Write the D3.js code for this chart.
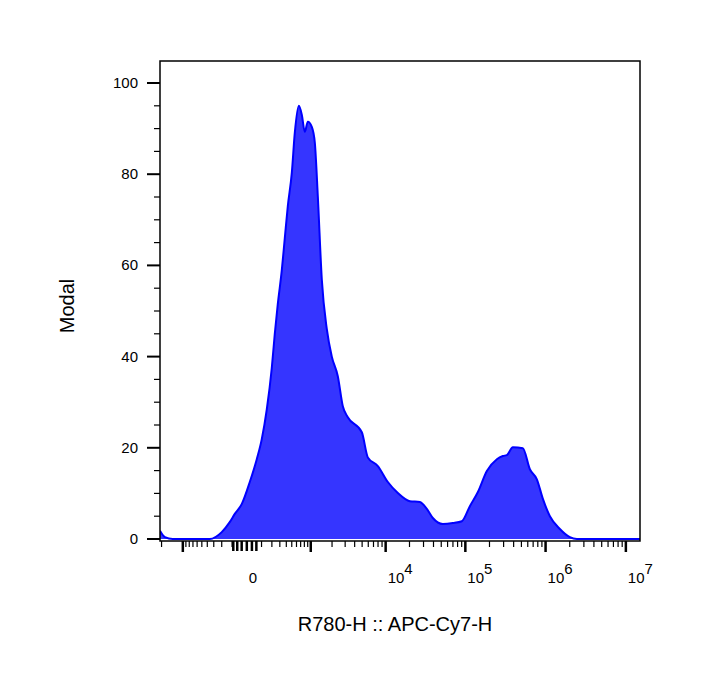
<!DOCTYPE html>
<html>
<head>
<meta charset="utf-8">
<script src="https://cdn.jsdelivr.net/npm/d3@7"></script>
<style>
	body { margin: 0; background: #fff; }
	text { font-family: "Liberation Sans", Arial, sans-serif; fill: #000; }
</style>
</head>
<body>
<svg id="chart" width="703" height="695"></svg>
<script>
// histogram: fluorescence value / modal %
var xVals = [-2100, -1800, -1400, -1000, -360, -200, -120, -78, -29, 17, 63, 102, 147, 199, 234, 272, 329, 375, 426, 501,
	563, 655, 731, 813, 903, 1036, 1147, 1267, 1443, 1696, 1986, 2394, 2793, 3253, 4955, 5922, 7953, 10660, 14270,
	20200, 26980, 33020, 39270, 52380, 69790, 90490, 113900, 143400, 185500, 247200, 293600, 329300, 391400, 521200,
	637300, 779000, 925700, 1131800, 1507300, 2007200, 2452000, 15000000];
var yVals = [1.8, 0.4, 0, 0, 0, 1.5, 3.7, 5.5, 7.7, 12.5, 17.5, 21.9, 28.4, 37.5, 45.0, 51.5, 59.0, 66.0, 73.0, 80.3,
	89.1, 95.0, 93.0, 89.3, 91.5, 90.4, 86.9, 75.1, 56.9, 46.0, 40.0, 35.7, 29.1, 26.7, 23.4, 17.9, 16.0, 12.5, 10.1,
	8.3, 8.1, 6.6, 4.6, 3.3, 3.5, 3.9, 7.2, 10.3, 14.9, 17.5, 18.2, 18.4, 20.1, 19.9,
	15.3, 13.1, 8.8, 5.0, 2.2, 0.4, 0, 0];

var yTicks = [0, 20, 40, 60, 80, 100];
var xLabels = [{v: 0, base: "0", exp: ""}, {v: 1e4, base: "10", exp: "4"}, {v: 1e5, base: "10", exp: "5"},
	{v: 1e6, base: "10", exp: "6"}, {v: 1e7, base: "10", exp: "7"}];
var xTitle = "R780-H :: APC-Cy7-H";
var yTitle = "Modal";

var svg = d3.select("#chart");
var L = 160, R = 640, T = 61, B = 541;

var x = d3.scaleSymlog().constant(190).domain([-2100, 15000000]).range([L, R]);
var y = d3.scaleLinear().domain([0, 100]).range([539, 83]);

var data = xVals.map(function(v, i){ return {x: v, y: yVals[i]}; });

// filled histogram
var area = d3.area()
	.x(function(d){ return x(d.x); })
	.y0(y(0))
	.y1(function(d){ return y(d.y); })
	.curve(d3.curveMonotoneX);
var line = d3.line()
	.x(function(d){ return x(d.x); })
	.y(function(d){ return y(d.y); })
	.curve(d3.curveMonotoneX);

svg.append("clipPath").attr("id", "plotclip")
	.append("rect").attr("x", L).attr("y", T).attr("width", R - L).attr("height", B - T);

var g = svg.append("g").attr("clip-path", "url(#plotclip)");
g.append("path").datum(data)
	.attr("d", area)
	.style("fill", "#3535ff");
g.append("path").datum(data)
	.attr("d", line)
	.style("fill", "none")
	.style("stroke", "#0000ff")
	.style("stroke-width", 2);

// frame
svg.append("rect")
	.attr("x", L).attr("y", T).attr("width", R - L).attr("height", B - T)
	.style("fill", "none").style("stroke", "#000").style("stroke-width", 1.5);

// y axis ticks (major every 20, minor every 5)
var yMinor = d3.range(0, 101, 5).filter(function(v){ return v % 20 != 0; });
svg.append("g").selectAll("line.ymin").data(yMinor).enter().append("line")
	.attr("x1", L - 6).attr("x2", L)
	.attr("y1", function(d){ return y(d); }).attr("y2", function(d){ return y(d); })
	.style("stroke", "#000").style("stroke-width", 1.2);
svg.append("g").selectAll("line.ymaj").data(yTicks).enter().append("line")
	.attr("x1", L - 13).attr("x2", L)
	.attr("y1", function(d){ return y(d); }).attr("y2", function(d){ return y(d); })
	.style("stroke", "#000").style("stroke-width", 2);
svg.append("g").selectAll("text").data(yTicks).enter().append("text")
	.attr("x", L - 22)
	.attr("y", function(d){ return y(d) + 5; })
	.attr("text-anchor", "end")
	.style("font-size", "15px")
	.text(function(d){ return d; });

// x axis ticks: decades and their minor steps, dense ones around zero
var xMinor = [], xMajor = [-1000, 1000, 1e4, 1e5, 1e6, 1e7];
[100, 1000, 1e4, 1e5, 1e6].forEach(function(dec){
	for (var k = 1; k <= 9; k++) {
		if (k == 1 && dec >= 1000) continue;
		xMinor.push(k * dec);
		if (dec <= 1000 && k * dec <= 2000) xMinor.push(-k * dec);
	}
});
var xZero = [-90, -60, -30, 0, 30, 60];
svg.append("g").selectAll("line").data(xMinor).enter().append("line")
	.attr("x1", function(d){ return x(d); }).attr("x2", function(d){ return x(d); })
	.attr("y1", B).attr("y2", B + 6)
	.style("stroke", "#000").style("stroke-width", 1.2);
svg.append("g").selectAll("line").data(xZero).enter().append("line")
	.attr("x1", function(d){ return x(d); }).attr("x2", function(d){ return x(d); })
	.attr("y1", B).attr("y2", B + 10)
	.style("stroke", "#000").style("stroke-width", 2.5);
svg.append("g").selectAll("line").data(xMajor).enter().append("line")
	.attr("x1", function(d){ return x(d); }).attr("x2", function(d){ return x(d); })
	.attr("y1", B).attr("y2", B + 11)
	.style("stroke", "#000").style("stroke-width", 2.5);

var lab = svg.append("g").selectAll("text").data(xLabels).enter().append("text")
	.attr("x", function(d){ return x(d.v) + 2; })
	.attr("y", 583)
	.style("font-size", "15px");
lab.append("tspan").text(function(d){ return d.base; });
lab.append("tspan")
	.attr("dy", -9)
	.text(function(d){ return d.exp; });

// axis titles
svg.append("text")
	.attr("x", 395).attr("y", 631)
	.attr("text-anchor", "middle")
	.style("font-size", "20px")
	.text(xTitle);
svg.append("text")
	.attr("transform", "translate(74,306) rotate(-90)")
	.attr("text-anchor", "middle")
	.style("font-size", "20px")
	.text(yTitle);
</script>
</body>
</html>
